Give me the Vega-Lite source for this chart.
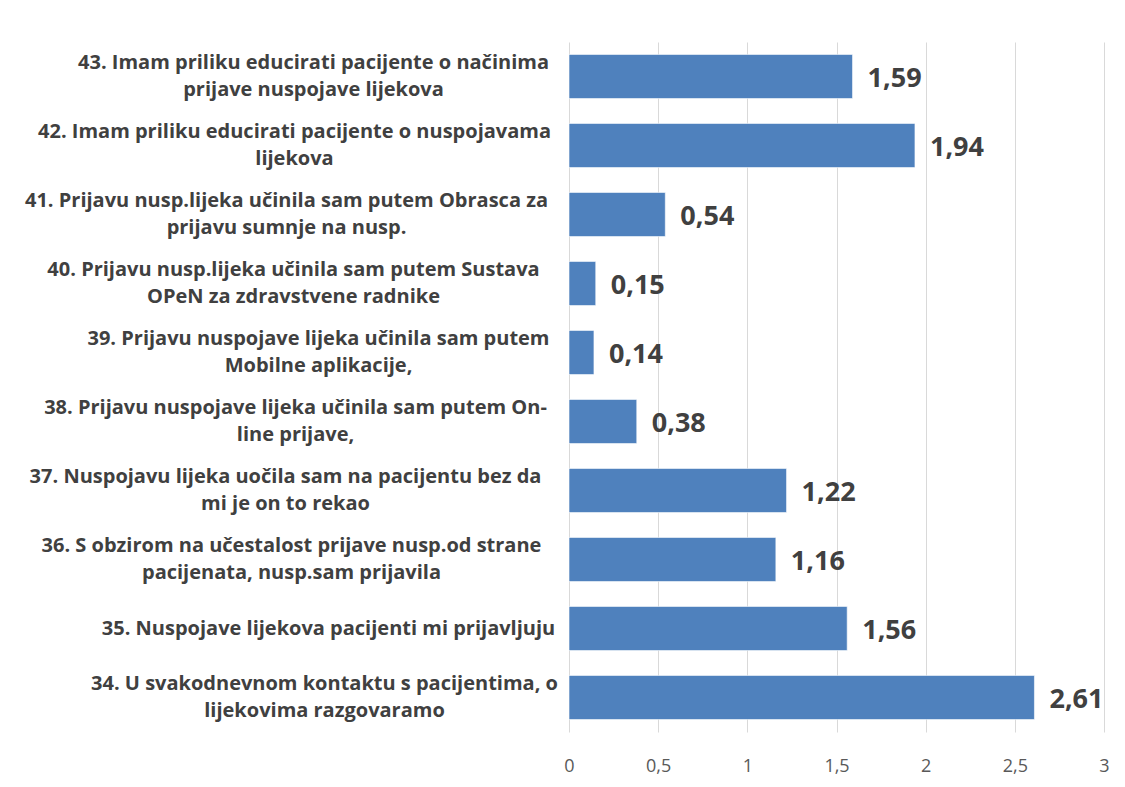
{
  "$schema": "https://vega.github.io/schema/vega-lite/v6.json",
  "width": 535,
  "height": 690,
  "autosize": "none",
  "padding": {"left": 569, "top": 42, "right": 21, "bottom": 55},
  "background": "white",
  "config": {
    "locale": {"number": {"decimal": ",", "thousands": ".", "grouping": [3], "currency": ["", " €"]}},
    "view": {"stroke": null},
    "font": "Open Sans"
  },
  "data": {
    "values": [
      {"item": "43. Imam priliku educirati pacijente o načinima\nprijave nuspojave lijekova", "value": 1.59},
      {"item": "42. Imam priliku educirati pacijente o nuspojavama\nlijekova", "value": 1.94},
      {"item": "41. Prijavu nusp.lijeka učinila sam putem Obrasca za\nprijavu sumnje na nusp.", "value": 0.54},
      {"item": "40. Prijavu nusp.lijeka učinila sam putem Sustava\nOPeN za zdravstvene radnike", "value": 0.15},
      {"item": "39. Prijavu nuspojave lijeka učinila sam putem\nMobilne aplikacije,", "value": 0.14},
      {"item": "38. Prijavu nuspojave lijeka učinila sam putem On-\nline prijave,", "value": 0.38},
      {"item": "37. Nuspojavu lijeka uočila sam na pacijentu bez da\nmi je on to rekao", "value": 1.22},
      {"item": "36. S obzirom na učestalost prijave nusp.od strane\npacijenata, nusp.sam prijavila", "value": 1.16},
      {"item": "35. Nuspojave lijekova pacijenti mi prijavljuju", "value": 1.56},
      {"item": "34. U svakodnevnom kontaktu s pacijentima, o\nlijekovima razgovaramo", "value": 2.61}
    ]
  },
  "encoding": {
    "y": {
      "field": "item",
      "type": "nominal",
      "sort": null,
      "scale": {"paddingInner": 0.36, "paddingOuter": 0.18},
      "axis": {
        "title": null,
        "domain": false,
        "ticks": false,
        "grid": false,
        "labelExpr": "split(datum.label, '\\n')",
        "labelAlign": "center",
        "labelBaseline": "middle",
        "labelFont": "Open Sans",
        "labelFontWeight": "bold",
        "labelFontSize": 20,
        "labelLineHeight": 27,
        "labelColor": "#404040",
        "labelLimit": 0,
        "labelOffset": {"expr": "indexof(datum.value, '\\n') >= 0 ? -14 : 0"},
        "labelPadding": {"expr": "substring(datum.value,0,2)=='43' ? 256 : substring(datum.value,0,2)=='42' ? 275 : substring(datum.value,0,2)=='41' ? 283 : substring(datum.value,0,2)=='40' ? 276 : substring(datum.value,0,2)=='39' ? 251 : substring(datum.value,0,2)=='38' ? 274 : substring(datum.value,0,2)=='37' ? 284 : substring(datum.value,0,2)=='36' ? 278 : substring(datum.value,0,2)=='35' ? 241 : 245"}
      }
    },
    "x": {
      "field": "value",
      "type": "quantitative",
      "scale": {"domain": [0, 3], "nice": false},
      "axis": {
        "title": null,
        "values": [0, 0.5, 1, 1.5, 2, 2.5, 3],
        "format": "~g",
        "domain": false,
        "ticks": false,
        "grid": true,
        "gridColor": "#d9d9d9",
        "gridWidth": 1,
        "labelFont": "Open Sans",
        "labelFontSize": 18,
        "labelColor": "#595959",
        "labelPadding": 25,
        "labelFlush": false
      }
    }
  },
  "layer": [
    {"mark": {"type": "bar", "color": "#4F81BD", "stroke": "#ffffff", "strokeWidth": 0.6}},
    {
      "mark": {"type": "text", "align": "left", "baseline": "middle", "dx": 15, "dy": 2, "font": "Open Sans", "fontWeight": "bold", "fontSize": 27, "color": "#404040"},
      "encoding": {"text": {"field": "value", "type": "quantitative", "format": ".2f"}}
    }
  ]
}
